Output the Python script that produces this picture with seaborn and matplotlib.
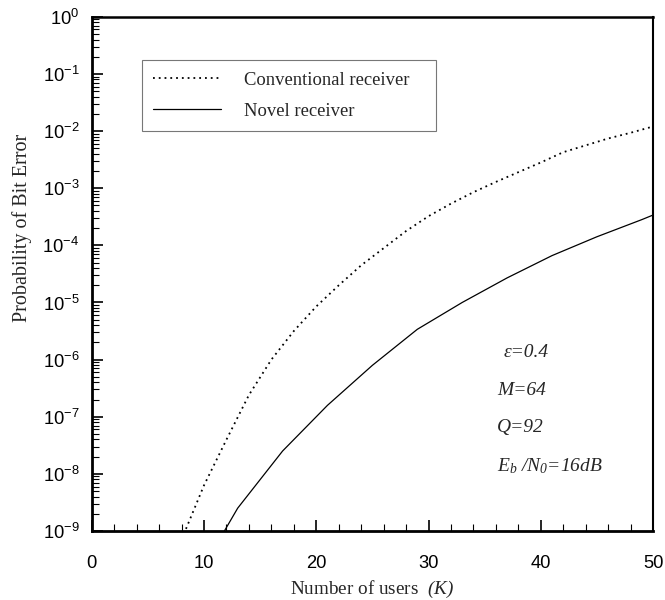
import numpy as np
import pandas as pd
import matplotlib
matplotlib.use("Agg")
import matplotlib.pyplot as plt
import matplotlib.ticker as mticker
import seaborn as sns

# values (log10 of the bit error probability)
conv_users = [8, 10, 12, 14, 16, 18, 20, 22, 24, 26, 28, 30, 32, 34, 36, 38, 40, 42, 44, 46, 48, 50]
conv_log_pe = [-9.15, -8.2, -7.4, -6.62, -6.0, -5.5, -5.07, -4.7, -4.35, -4.05, -3.75, -3.49,
               -3.27, -3.07, -2.89, -2.72, -2.55, -2.37, -2.25, -2.13, -2.03, -1.92]
novel_users = [9, 13, 17, 21, 25, 29, 33, 37, 41, 45, 49, 50]
novel_log_pe = [-9.95, -8.6, -7.6, -6.8, -6.1, -5.47, -5.0, -4.57, -4.18, -3.85, -3.55, -3.47]

params = ["\u03b5=0.4", "M=64", "Q=92", r"$E_b$ /$N_0$=16dB"]

conv = pd.DataFrame({"K": conv_users, "pe": 10.0 ** np.array(conv_log_pe)})
novel = pd.DataFrame({"K": novel_users, "pe": 10.0 ** np.array(novel_log_pe)})

sns.set_theme(style="ticks")
plt.rcParams["font.family"] = ["Liberation Sans", "DejaVu Sans"]
plt.rcParams["mathtext.fontset"] = "custom"
plt.rcParams["mathtext.rm"] = "Liberation Serif:italic"
plt.rcParams["mathtext.it"] = "Liberation Serif:italic"

fig = plt.figure(figsize=(6.65, 6.0), dpi=100)
ax = fig.add_axes([0.138, 0.115, 0.844, 0.857])

sns.lineplot(data=conv, x="K", y="pe", ax=ax, color="black", lw=1.3,
             linestyle=(0, (1, 2.2)), label="Conventional receiver")
sns.lineplot(data=novel, x="K", y="pe", ax=ax, color="black", lw=0.9,
             label="Novel receiver")

ax.set_yscale("log")
ax.set_xlim(0, 50)
ax.set_ylim(1e-9, 1)
ax.set_xticks(range(0, 51, 10))
ax.xaxis.set_minor_locator(mticker.MultipleLocator(2))
ax.yaxis.set_major_locator(mticker.LogLocator(base=10, numticks=12))
ax.yaxis.set_minor_locator(mticker.LogLocator(base=10, subs=np.arange(2, 10), numticks=12))
ax.yaxis.set_minor_formatter(mticker.NullFormatter())

ax.tick_params(which="both", direction="in", top=False, right=False, colors="black")
ax.tick_params(which="major", length=8, width=1.2, labelsize=13.2, pad=9)
ax.tick_params(which="minor", length=5, width=0.8)
ax.tick_params(axis="x", which="major", pad=17)

for side in ["left", "bottom", "top", "right"]:
    ax.spines[side].set_color("black")
ax.spines["left"].set_linewidth(2.0)
ax.spines["bottom"].set_linewidth(2.0)
ax.spines["top"].set_linewidth(1.8)
ax.spines["right"].set_linewidth(1.5)

ax.set_xlabel(r"Number of users  $(K)$", family="Liberation Serif", fontsize=13.8, labelpad=5)
ax.set_ylabel("Probability of Bit Error", family="Liberation Serif", fontsize=14.5)
ax.yaxis.set_label_coords(-0.107, 0.59)

leg = ax.legend(loc="upper left", bbox_to_anchor=(0.089, 0.0, 0.524, 0.916), mode="expand",
                frameon=True, fancybox=False, edgecolor="#555555",
                prop={"family": "Liberation Serif", "size": 13.4},
                handlelength=3.65, handletextpad=1.25, borderpad=0.62, labelspacing=0.75,
                borderaxespad=0)
leg.get_frame().set_linewidth(0.8)

xs = [0.733, 0.722, 0.722, 0.722]
ys = [0.348, 0.274, 0.202, 0.127]
for txt, xx, yy in zip(params, xs, ys):
    ax.text(xx, yy, txt, transform=ax.transAxes, fontsize=14, ha="left", va="center",
            family="Liberation Serif", fontstyle="italic")

fig.savefig("out.png", dpi=100)
